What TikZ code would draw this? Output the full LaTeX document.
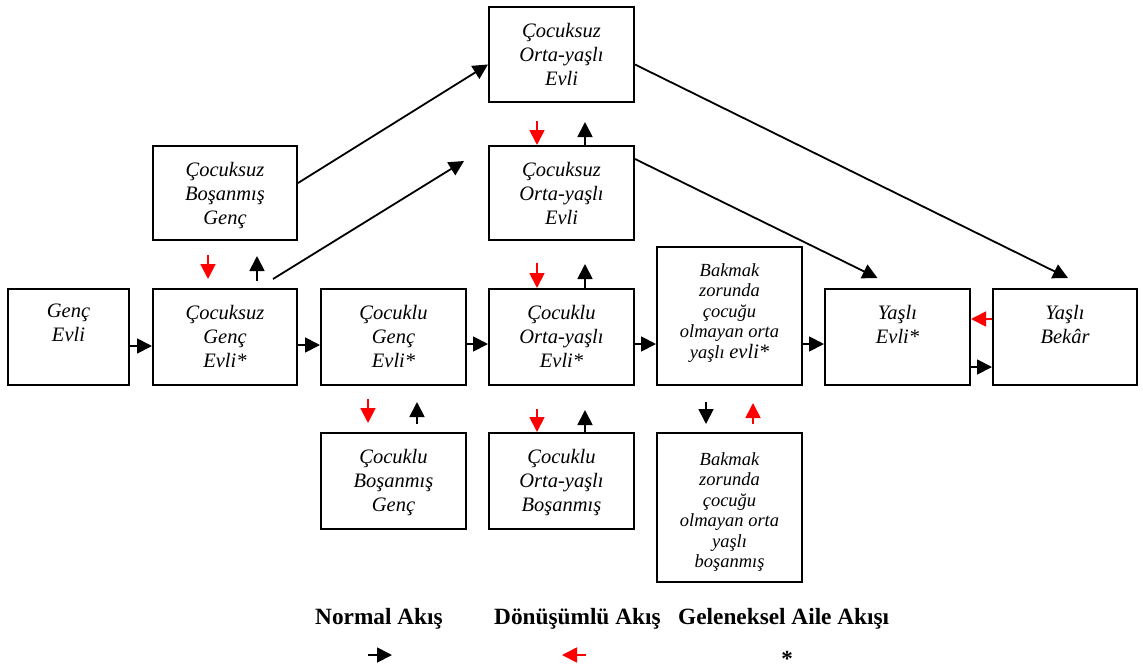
\documentclass[tikz,border=0pt]{standalone}
\usepackage{fontspec}
\setmainfont{Liberation Serif}
\usetikzlibrary{arrows.meta,calc}
\begin{document}
\begin{tikzpicture}[x=1pt,y=-1pt,
  box/.style={draw, line width=2pt, inner sep=0pt},
  txt/.style={font=\fontsize{20.5}{24}\selectfont\itshape, align=center, inner sep=0pt, anchor=north},
  stxt/.style={font=\fontsize{18.5}{20.5}\selectfont\itshape, align=center, inner sep=0pt, anchor=north},
  arr/.style={line width=1.8pt, -{Triangle[length=15pt,width=15pt]}},
  rarr/.style={arr, red},
  leg/.style={font=\fontsize{23.3}{26}\selectfont\bfseries, anchor=base west, inner sep=0pt}]
\useasboundingbox (0,0) rectangle (1143,670);

% boxes
\node[box, minimum width=121pt, minimum height=96pt] (ge)   at (68.5,337) {};
\node[box, minimum width=144pt, minimum height=96pt] (cge)  at (225,337) {};
\node[box, minimum width=145pt, minimum height=96pt] (clge) at (393.5,337) {};
\node[box, minimum width=145pt, minimum height=96pt] (coe)  at (561.5,337) {};
\node[box, minimum width=145pt, minimum height=138pt] (bev) at (729.5,316) {};
\node[box, minimum width=145pt, minimum height=96pt] (ye)   at (897.5,337) {};
\node[box, minimum width=144pt, minimum height=96pt] (yb)   at (1065,337) {};
\node[box, minimum width=144pt, minimum height=94pt] (cbg)  at (225,193) {};
\node[box, minimum width=145pt, minimum height=95pt] (cot)  at (561.5,54.5) {};
\node[box, minimum width=145pt, minimum height=94pt] (com)  at (561.5,193) {};
\node[box, minimum width=145pt, minimum height=96pt] (clbg) at (393.5,481) {};
\node[box, minimum width=145pt, minimum height=96pt] (cob)  at (561.5,481) {};
\node[box, minimum width=145pt, minimum height=149pt] (bbo) at (729.5,507.5) {};

% texts
\node[txt] (ge-t)   at ($(ge.north)+(0,16)$)   {Genç\\Evli};
\node[txt] (cge-t)  at ($(cge.north)+(0,17)$)  {Çocuksuz\\Genç\\Evli*};
\node[txt] (clge-t) at ($(clge.north)+(0,17)$) {Çocuklu\\Genç\\Evli*};
\node[txt] (coe-t)  at ($(coe.north)+(0,17)$)  {Çocuklu\\Orta-yaşlı\\Evli*};
\node[stxt] (bev-t) at ($(bev.north)+(0,17)$)  {Bakmak\\zorunda\\çocuğu\\olmayan orta\\yaşlı {\fontsize{20.5}{20.5}\selectfont evli*}};
\node[txt] (ye-t)   at ($(ye.north)+(0,17)$)   {Yaşlı\\Evli*};
\node[txt] (yb-t)   at ($(yb.north)+(0,17)$)   {Yaşlı\\Bekâr};
\node[txt] (cbg-t)  at ($(cbg.north)+(0,17)$)  {Çocuksuz\\Boşanmış\\Genç};
\node[txt] (cot-t)  at ($(cot.north)+(0,17)$)  {Çocuksuz\\Orta-yaşlı\\Evli};
\node[txt] (com-t)  at ($(com.north)+(0,17)$)  {Çocuksuz\\Orta-yaşlı\\Evli};
\node[txt] (clbg-t) at ($(clbg.north)+(0,17)$) {Çocuklu\\Boşanmış\\Genç};
\node[txt] (cob-t)  at ($(cob.north)+(0,17)$)  {Çocuklu\\Orta-yaşlı\\Boşanmış};
\node[stxt] (bbo-t) at ($(bbo.north)+(0,20)$)  {Bakmak\\zorunda\\çocuğu\\olmayan orta\\yaşlı\\boşanmış};

% horizontal arrows
\coordinate (h1) at ($(ge.east)+(0,9)$);
\coordinate (h2) at ($(cge.east)+(0,8)$);
\coordinate (h3) at ($(clge.east)+(0,7)$);
\coordinate (h4) at ($(coe.east)+(0,7)$);
\coordinate (h5) at ($(bev.east)+(0,28)$);
\draw[arr] (h1) -- (h1 -| cge.west);
\draw[arr] (h2) -- (h2 -| clge.west);
\draw[arr] (h3) -- (h3 -| coe.west);
\draw[arr] (h4) -- (h4 -| bev.west);
\draw[arr] (h5) -- (h5 -| ye.west);
\coordinate (h6) at ($(yb.west)+(0,-18)$);
\coordinate (h7) at ($(ye.east)+(0,30)$);
\draw[rarr] (h6) -- (h6 -| ye.east);
\draw[arr] (h7) -- (h7 -| yb.west);

% diagonal arrows
\coordinate (d2e) at ($(com.west)+(-24,-32)$);
\draw[arr] ($(cbg.east)+(0,-10)$) -- ($(cot.west)+(0,10)$);
\draw[arr] ($(cge.north)+(48,-9)$) -- (d2e);
\draw[arr] ($(com.east)+(0,-34)$) -- ($(ye.north)+(-20,-10)$);
\draw[arr] ($(cot.east)+(0,10)$) -- ($(yb.north)+(3,-10)$);

% vertical arrows
\coordinate (v1a) at (208,255); \coordinate (v1b) at (208,279);
\coordinate (v1c) at (257,281); \coordinate (v1d) at (257,256);
\draw[rarr] (v1a) -- (v1b);
\draw[arr] (v1c) -- (v1d);
\coordinate (v2a) at (537,121); \coordinate (v2c) at (585,122);
\draw[rarr] (v2a) -- (v2a |- com.north);
\draw[arr] (v2c |- com.north) -- (v2c);
\coordinate (v3a) at (537,263); \coordinate (v3c) at (585,264);
\draw[rarr] (v3a) -- (v3a |- coe.north);
\draw[arr] (v3c |- coe.north) -- (v3c);
\coordinate (v4a) at (368,399); \coordinate (v4b) at (368,423);
\coordinate (v4c) at (417,424); \coordinate (v4d) at (417,402);
\draw[rarr] (v4a) -- (v4b);
\draw[arr] (v4c) -- (v4d);
\coordinate (v5a) at (537,409); \coordinate (v5c) at (585,410);
\draw[rarr] (v5a) -- (v5a |- cob.north);
\draw[arr] (v5c |- cob.north) -- (v5c);
\coordinate (v6a) at (706,402); \coordinate (v6b) at (706,424);
\coordinate (v6c) at (753,424); \coordinate (v6d) at (753,403);
\draw[arr] (v6a) -- (v6b);
\draw[rarr] (v6c) -- (v6d);

% legend
\node[leg] (l1) at (315,624) {Normal Akış};
\node[leg] (l2) at (494,624) {Dönüşümlü Akış};
\node[leg] (l3) at (678,624) {Geleneksel Aile Akışı};
\coordinate (la) at (368,655); \coordinate (lb) at (392,655);
\coordinate (lc) at (586,655); \coordinate (ld) at (562,655);
\draw[arr] (la) -- (lb);
\draw[rarr] (lc) -- (ld);
\node[font=\fontsize{23}{26}\selectfont\bfseries, anchor=base, inner sep=0pt] (l4) at (787,666) {*};
\end{tikzpicture}
\end{document}
